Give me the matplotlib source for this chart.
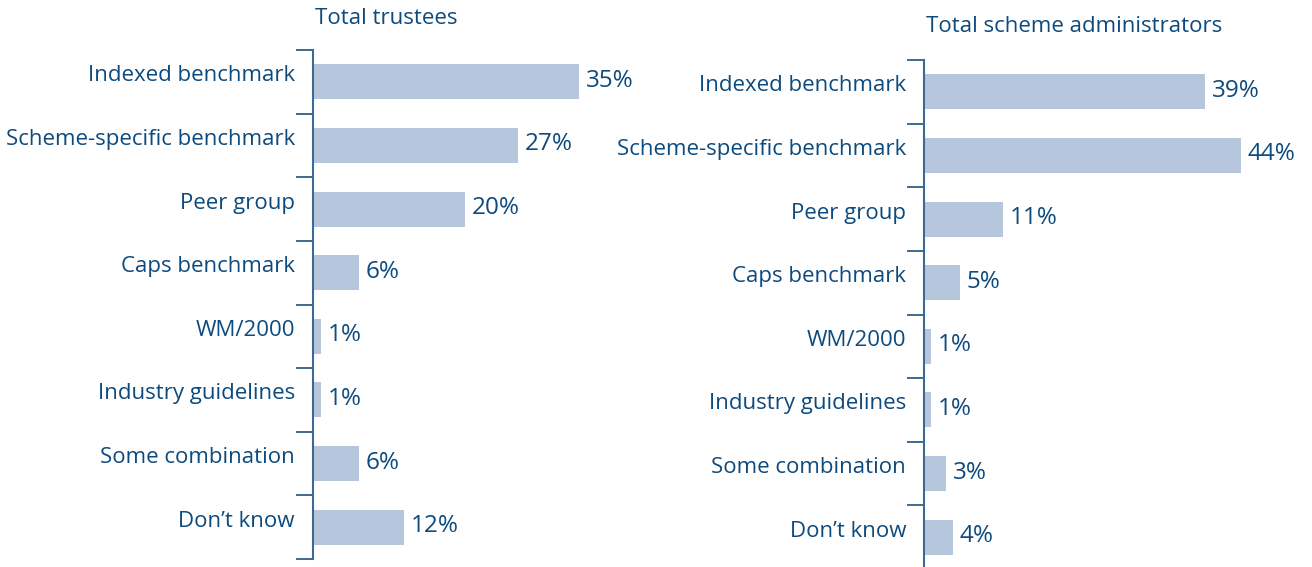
import matplotlib.pyplot as plt

# survey answers: which benchmark is used
categories = ["Indexed benchmark", "Scheme-specific benchmark", "Peer group",
              "Caps benchmark", "WM/2000", "Industry guidelines",
              "Some combination", "Don\u2019t know"]
trustees = [35, 27, 20, 6, 1, 1, 6, 12]
administrators = [39, 44, 11, 5, 1, 1, 3, 4]

TEXT = "#0d4a7e"
BAR = "#b6c6dc"
SPINE = "#3d6a94"

plt.rcParams['font.family'] = ['Open Sans', 'DejaVu Sans']

W, H = 1312, 567
fig = plt.figure(figsize=(W / 100, H / 100), dpi=100)


def panel(left_px, top_px, bottom_px, px_per_pct, values, title, title_y):
    xmax = 50
    ax = fig.add_axes([left_px / W, 1 - bottom_px / H,
                       xmax * px_per_pct / W, (bottom_px - top_px) / H])
    n = len(values)
    pos = list(range(n))
    ax.barh(pos, values, height=0.55, color=BAR, linewidth=0)
    ax.set_xlim(0, xmax)
    ax.set_ylim(n - 0.5, -0.5)
    for s in ["top", "right", "bottom"]:
        ax.spines[s].set_visible(False)
    ax.spines["left"].set_color(SPINE)
    ax.spines["left"].set_linewidth(1.5)
    ax.set_xticks([])
    ax.set_yticks([p - 0.5 for p in pos] + [n - 0.5])
    ax.set_yticklabels([])
    ax.tick_params(axis="y", length=12, width=1.4, color=SPINE, direction="out")
    for p, cat, v in zip(pos, categories, values):
        ax.annotate(cat, xy=(0, p), xycoords=("axes fraction", "data"),
                    xytext=(-18, 6), textcoords="offset pixels",
                    ha="right", va="center", fontsize=16, color=TEXT)
        ax.annotate(f"{v}%", xy=(v, p), xytext=(7, 1),
                    textcoords="offset pixels", ha="left", va="center",
                    fontsize=17.5, color=TEXT)
    fig.text((left_px + 2) / W, 1 - title_y / H, title, ha="left",
             va="center", fontsize=16, color=TEXT)
    return ax


panel(313, 50, 559, 7.6, trustees, "Total trustees", 18)
panel(924, 60, 569, 7.2, administrators, "Total scheme administrators", 27)

fig.savefig("out.png", dpi=100)
